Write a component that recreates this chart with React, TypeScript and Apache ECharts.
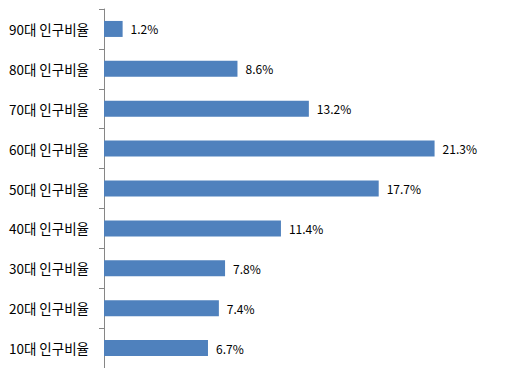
import React, { useEffect, useRef } from "react";
import * as echarts from "echarts";

const categories = [
  "10대 인구비율",
  "20대 인구비율",
  "30대 인구비율",
  "40대 인구비율",
  "50대 인구비율",
  "60대 인구비율",
  "70대 인구비율",
  "80대 인구비율",
  "90대 인구비율",
];
const values = [6.7, 7.4, 7.8, 11.4, 17.7, 21.3, 13.2, 8.6, 1.2];

const FONT = "'Noto Sans CJK KR', 'Noto Sans', sans-serif";

export default function App() {
  const ref = useRef<HTMLDivElement>(null);
  useEffect(() => {
    if (!ref.current) return;
    const chart = echarts.init(ref.current, undefined, { renderer: "svg" });
    chart.setOption({
      animation: false,
      grid: { left: 104, right: 15, top: 9, bottom: 8, containLabel: false },
      xAxis: {
        type: "value",
        min: 0,
        max: 25,
        interval: 5,
        axisLine: { show: true, lineStyle: { color: "#868686" } },
        axisTick: { show: true, length: 5, lineStyle: { color: "#868686" } },
        axisLabel: { show: false },
        splitLine: { show: false },
      },
      yAxis: {
        type: "category",
        data: categories,
        axisLine: { show: true, lineStyle: { color: "#868686" } },
        axisTick: { show: true, length: 5, lineStyle: { color: "#868686" } },
        axisLabel: { fontSize: 13.5, color: "#000", fontFamily: FONT, margin: 15 },
      },
      series: [
        {
          type: "bar",
          data: values,
          barWidth: 16,
          itemStyle: { color: "#4F81BD" },
          label: {
            show: true,
            position: "right",
            distance: 8,
            fontSize: 12,
            color: "#000",
            fontFamily: FONT,
            formatter: (p: any) => `${Number(p.value).toFixed(1)}%`,
          },
        },
      ],
    });
    return () => chart.dispose();
  }, []);
  return <div ref={ref} style={{ width: 507, height: 376, margin: -8 }} />;
}
